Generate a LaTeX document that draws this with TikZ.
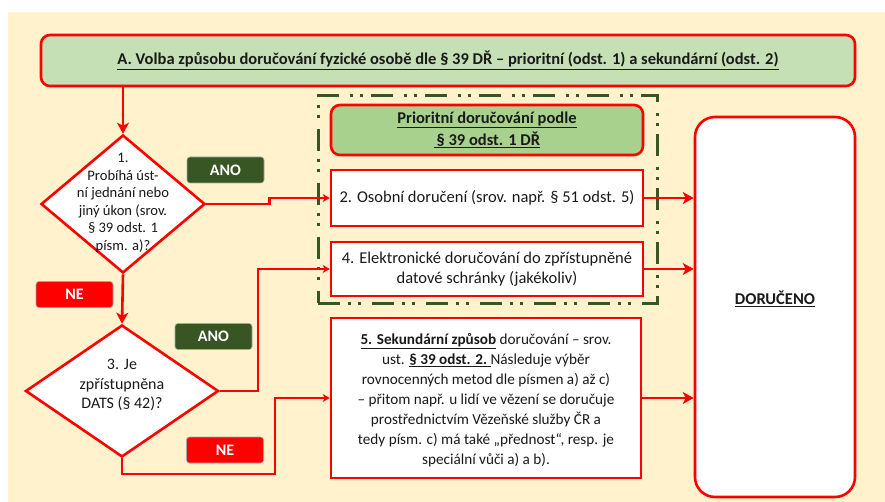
\documentclass[tikz,border=0pt]{standalone}
\usepackage{fontspec}
\setmainfont{Carlito}
\usetikzlibrary{shapes.geometric,arrows.meta,calc}
\definecolor{bg}{HTML}{FFF2CC}
\definecolor{lgreen}{HTML}{C5E0B4}
\definecolor{mgreen}{HTML}{A9D18E}
\definecolor{dgreen}{HTML}{375623}
\definecolor{rd}{HTML}{FF0000}
\definecolor{tx}{HTML}{1A1A1A}
\begin{document}
\begin{tikzpicture}[x=1pt,y=-1pt,
  redbox/.style={draw=rd,line width=2.6pt,fill=white,inner sep=0pt,text=tx},
  greenbox/.style={draw=rd,line width=2.6pt,rounded corners=9pt,inner sep=0pt,text=tx},
  dia/.style={shape=diamond,draw=rd,line width=2.6pt,fill=white,inner sep=0pt},
  tag/.style={draw=gray!70,line width=0.6pt,rounded corners=3pt,text=white,font=\fontsize{16}{18}\selectfont\bfseries,minimum width=77pt,minimum height=26pt,inner sep=0pt},
  ano/.style={tag,fill=dgreen},
  ne/.style={tag,fill=rd},
  conn/.style={draw=rd,line width=2.6pt},
  small/.style={conn,-{Stealth[length=7pt,width=8pt,inset=2pt]}},
  big/.style={conn,-{Stealth[length=11pt,width=12pt,inset=3pt]}},
  frame/.style={draw=dgreen,line width=3pt,dash pattern=on 22pt off 8pt on 3pt off 7pt on 3pt off 11pt}
]
\useasboundingbox (0,0) rectangle (885,502);
\fill[bg] (8,12) rectangle (885,502);

% frame
\node[frame,minimum width=339pt,minimum height=207pt,inner sep=0pt] (fr) at (487.5,199.5) {};

% top box
\node[greenbox,fill=lgreen,minimum width=814pt,minimum height=51pt] (A) at (448,60.5)
  {\fontsize{16.5}{18}\selectfont\bfseries\underline{A. Volba způsobu doručování fyzické osobě dle § 39 DŘ – prioritní (odst. 1) a sekundární (odst. 2)}};

% priority box
\node[greenbox,fill=mgreen,minimum width=312pt,minimum height=50pt,align=center,font=\fontsize{16.5}{22}\selectfont\bfseries] (P) at (487,130)
  {\underline{Prioritní doručování podle}\\\underline{\,§ 39 odst. 1 DŘ}};

% boxes
\node[redbox,minimum width=312pt,minimum height=56pt,font=\fontsize{16.5}{20}\selectfont] (b2) at (487,198)
  {2. Osobní doručení (srov. např. § 51 odst. 5)};
\node[redbox,minimum width=312pt,minimum height=54pt,align=center,font=\fontsize{16.5}{20}\selectfont] (b4) at (487,269)
  {4. Elektronické doručování do zpřístupněné\\datové schránky (jakékoliv)};
\node[redbox,minimum width=310pt,minimum height=160pt] (b5) at (486,398) {};
\node[align=center,font=\fontsize{15.2}{20}\selectfont,text=tx,inner sep=0pt] (t5) at (486,400)
  {\textbf{\underline{5. Sekundární způsob}} doručování – srov.\\
   ust. \textbf{\underline{§ 39 odst. 2.\ }}Následuje výběr\\
   rovnocenných metod dle písmen a) až c)\\
   – přitom např. u lidí ve vězení se doručuje\\
   prostřednictvím Vězeňské služby ČR a\\
   tedy písm. c) má také „přednost“, resp. je\\
   speciální vůči a) a b).};

% delivered
\node[draw=rd,line width=2.6pt,fill=white,rounded corners=20pt,minimum width=160pt,minimum height=380pt,inner sep=0pt] (D) at (775,307) {};
\node[font=\fontsize{16.5}{18}\selectfont\bfseries,text=tx] (Dt) at (775,299) {\underline{DORUČENO}};

% diamonds
\node[dia,minimum width=164pt,minimum height=138pt] (d1) at (123,204) {};
\node[align=center,font=\fontsize{14.6}{17.6}\selectfont,text=tx,inner sep=0pt] (d1t) at (123,203)
  {1.\\Probíhá úst-\\ní jednání nebo\\jiný úkon (srov.\\§ 39 odst. 1\\písm. a)?};
\node[dia,minimum width=193pt,minimum height=132pt] (d3) at (122,391) {};
\node[align=center,font=\fontsize{16}{19.5}\selectfont,text=tx,inner sep=0pt] (d3t) at (122,385)
  {3. Je\\zpřístupněna\\DATS (§ 42)?};

% tags
\node[ano] (ano1) at (225.5,170) {ANO};
\node[ano] (ano2) at (213.5,336.5) {ANO};
\node[ne] (ne1) at (74.5,294.5) {NE};
\node[ne] (ne2) at (225,450) {NE};

% connectors
\draw[big] (d1.north |- A.south) -- (d1.north);
\draw[big] (d1.south) -- (d3.north);
\draw[small] (d1.east) -- ++(63,0) |- (b2.west);
\draw[small] (d3.east) -- (258,391) |- (b4.west);
\coordinate (n1) at (275,474);
\draw[small] (d3.south) |- (n1) |- (b5.west);
\draw[big] (b2.east) -- (b2.east -| D.west);
\draw[big] (b4.east) -- (b4.east -| D.west);
\draw[big] (b5.east) -- (b5.east -| D.west);
\end{tikzpicture}
\end{document}
